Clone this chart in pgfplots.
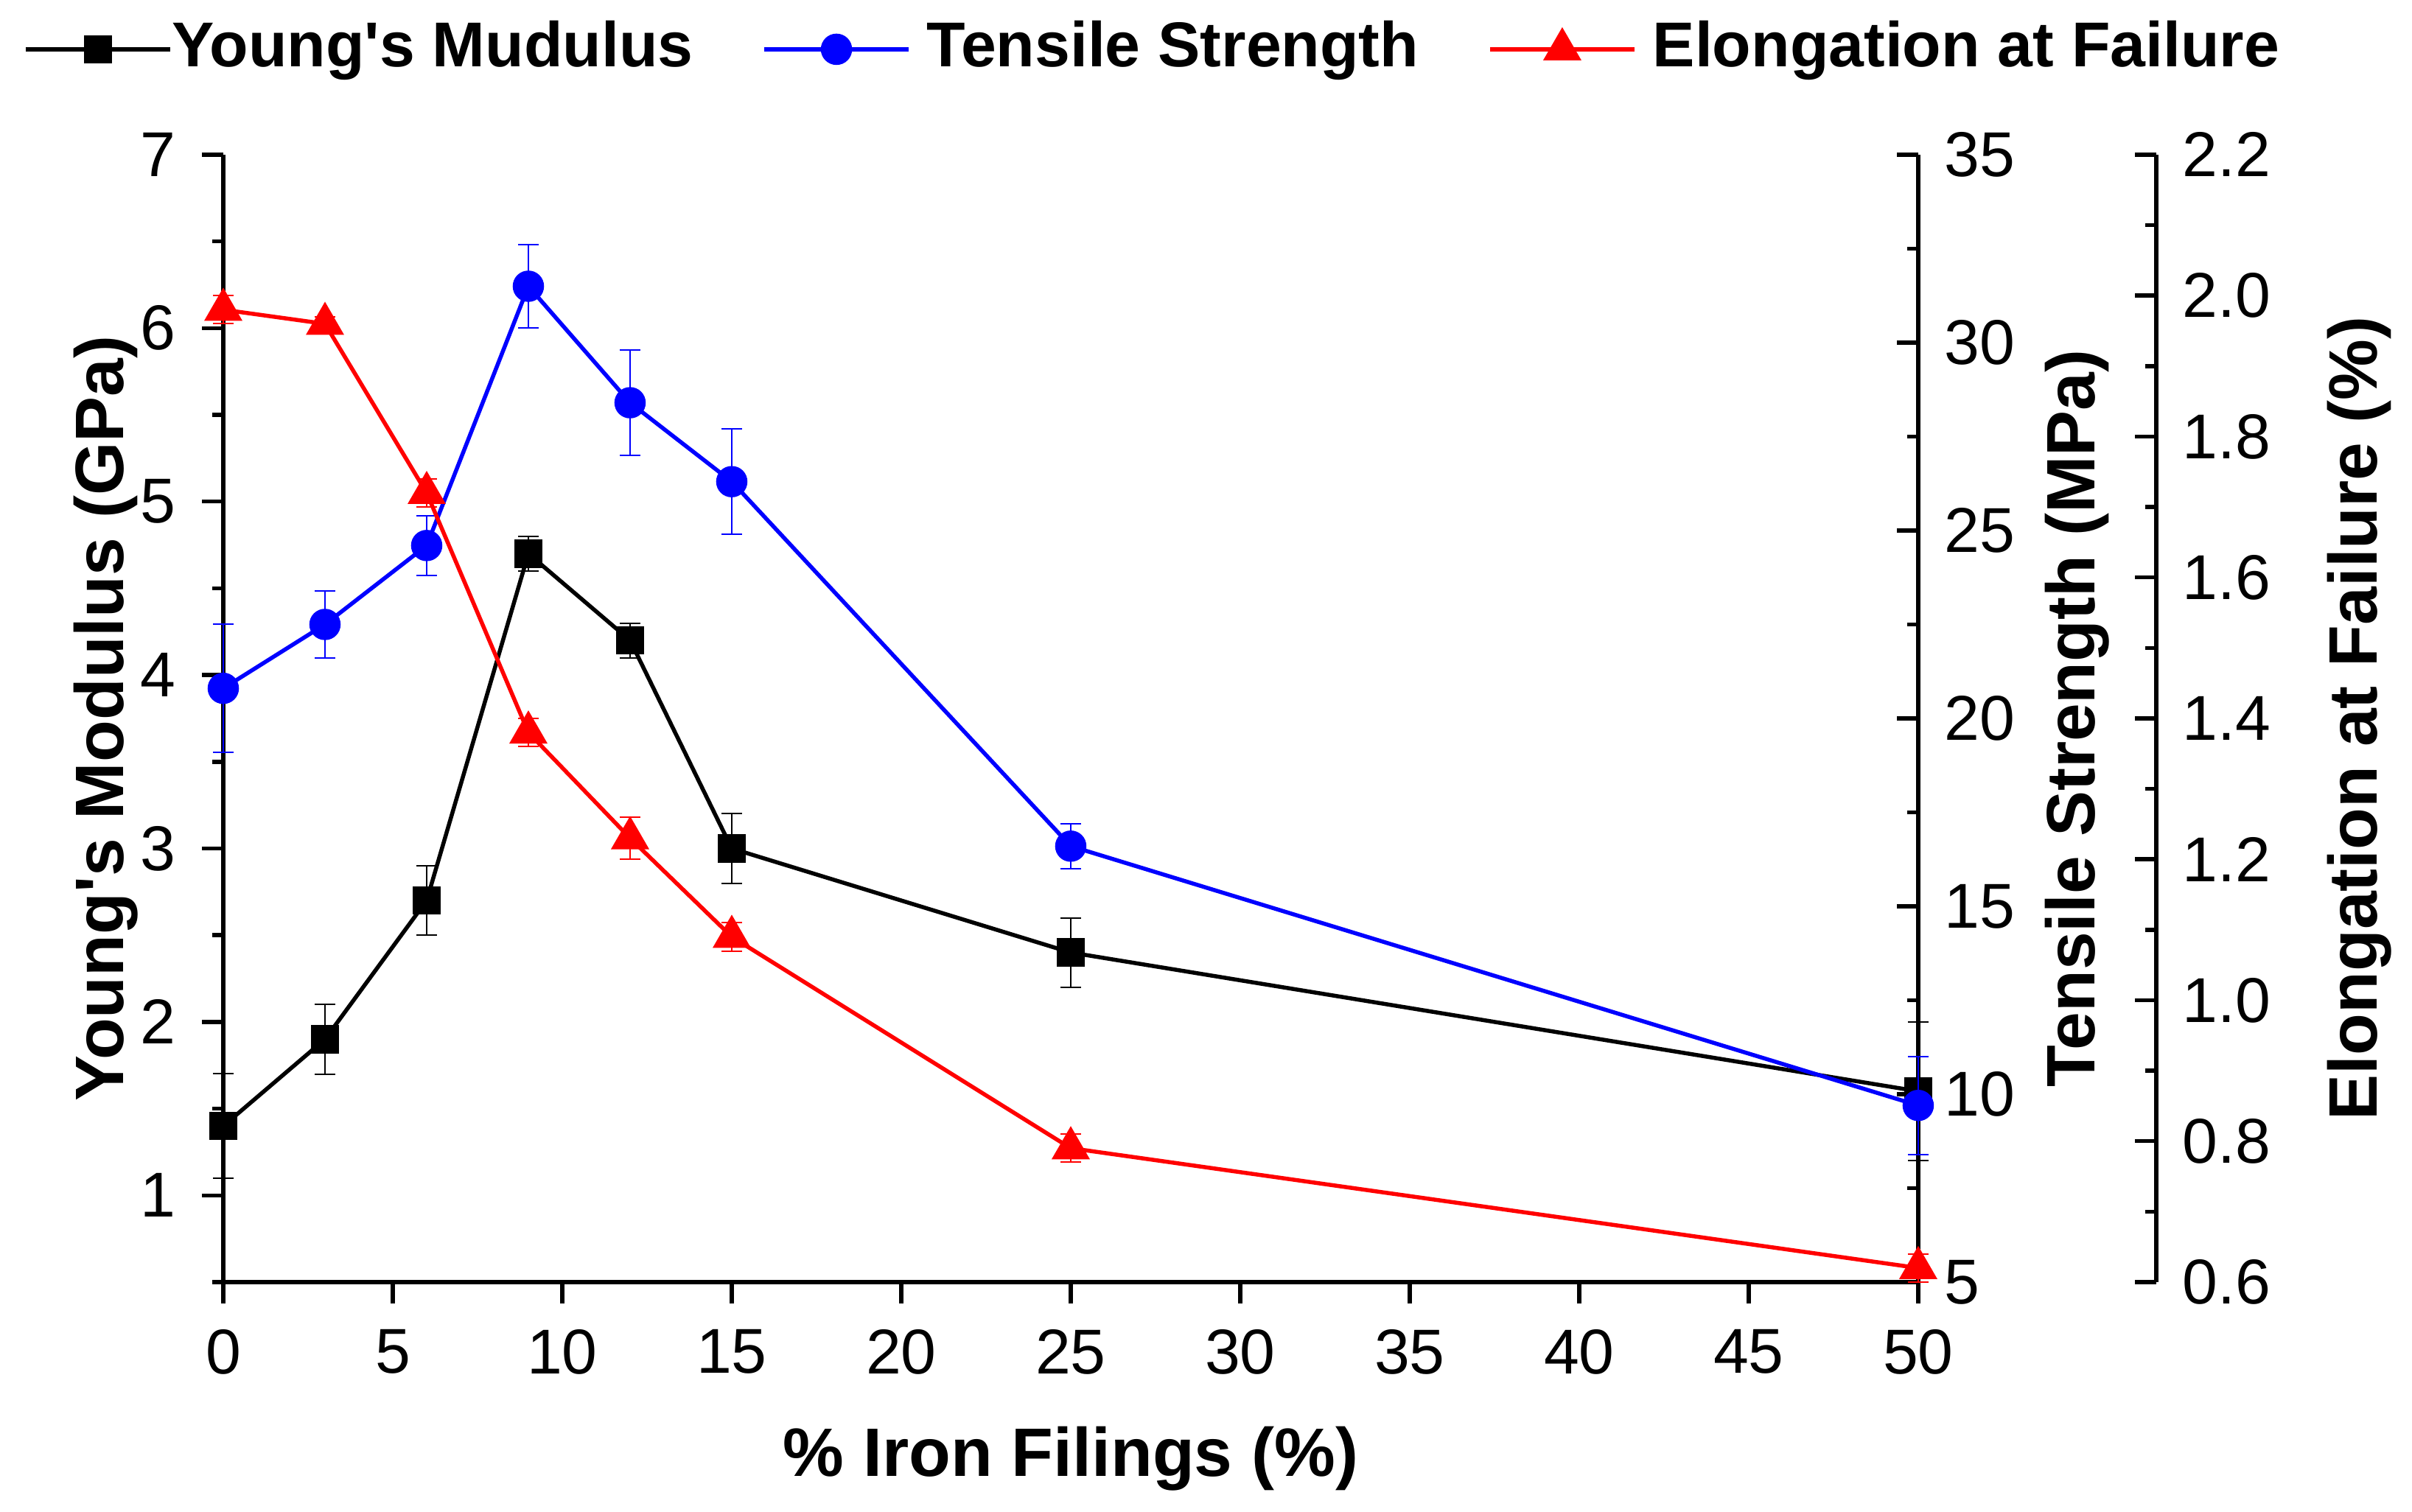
\documentclass[border=0pt]{standalone}
\usepackage{fontspec}
\setmainfont{Liberation Sans}[Ligatures=TeXOff]
\usepackage{pgfplots}
\pgfplotsset{compat=1.18}
\usepackage{pgfplotstable}

\pgfplotstableread{
x y e
0 1.4 0.3
3 1.9 0.2
6 2.7 0.2
9 4.7 0.1
12 4.2 0.1
15 3.0 0.2
25 2.4 0.2
50 1.6 0.4
}\ymod
\pgfplotstableread{
x y e
0 20.8 1.7
3 22.5 0.9
6 24.6 0.8
9 31.5 1.1
12 28.4 1.4
15 26.3 1.4
25 16.6 0.6
50 9.7 1.3
}\tens
\pgfplotstableread{
x y e
0 1.98 0.02
3 1.96 0.01
6 1.72 0.02
9 1.38 0.02
12 1.23 0.03
15 1.09 0.02
25 0.79 0.02
50 0.62 0.02
}\elong

\begin{document}
\begin{tikzpicture}
\useasboundingbox (-30.3pt,-31.2pt) rectangle (297pt,174pt);
\pgfplotsset{
  every axis/.append style={
    width=230pt, height=153pt, scale only axis,
    xmin=0, xmax=50, enlargelimits=false, clip=false,
    /pgf/number format/assume math mode=true,
    tick label style={font=\fontsize{8.6}{10}\selectfont},
    label style={font=\fontsize{9.3}{11}\selectfont\bfseries},
    axis line style={line width=0.6pt, -},
    major tick length=2.9pt, minor tick length=1.45pt,
    tick style={line width=0.55pt, black},
  },
  myerr/.style={error bars/.cd, y dir=both, y explicit,
    error bar style={line width=0.2pt},
    error mark options={rotate=90, mark size=1.4pt, line width=0.2pt}},
  dline/.style={line width=0.55pt},
}
% Young's modulus (left axis)
\begin{axis}[
  at={(0,0)},
  axis x line*=bottom, axis y line*=left,
  ymin=0.5, ymax=7,
  xtick={0,5,...,50}, ytick={1,...,7}, minor ytick={0.5,1.5,...,6.5},
  tick align=outside,
  xlabel={\% Iron Filings (\%)},
  ylabel={Young's Modulus (GPa)},
  xlabel style={at={(axis description cs:0.5,-0.1725)}, anchor=base},
  ylabel style={at={(axis description cs:-0.0587,0.5)}, anchor=base},
  legend columns=-1,
  legend style={draw=none, fill=none, inner sep=0pt, outer sep=0pt,
    at={(axis description cs:-0.1178,1.0935)}, anchor=west,
    font=\fontsize{8.6}{10}\selectfont\bfseries,
    nodes={inner sep=0pt},
    /tikz/every even column/.append style={column sep=9.4pt}},
  legend image code/.code={
    \draw[mark repeat=2,mark phase=2,#1] plot coordinates {(0pt,0pt) (9.8pt,0pt) (19.6pt,0pt)};
  },
]
\addplot[black, dline, mark=square*, mark size=1.65pt, mark options={solid}, myerr]
  table[x=x, y=y, y error=e]{\ymod};
\addlegendentry{Young's Mudulus}
\addlegendimage{blue, dline, mark=*, mark size=1.85pt, mark options={solid}}
\addlegendentry{\hspace{2.2pt}Tensile Strength}
\addlegendimage{red, dline, mark=triangle*, mark size=2.45pt, mark options={solid}}
\addlegendentry{\hspace{2.2pt}Elongation at Failure}
\end{axis}
% Tensile strength (right axis)
\begin{axis}[
  at={(0,0)},
  axis x line=none, axis y line*=right,
  ymin=5, ymax=35,
  ytick={5,10,...,35}, minor ytick={7.5,12.5,...,32.5},
  tick align=inside,
  ylabel={Tensile Strength (MPa)},
  ylabel style={at={(axis description cs:1.1043,0.5)}, anchor=base},
]
\addplot[blue, dline, mark=*, mark size=1.85pt, mark options={solid}, myerr]
  table[x=x, y=y, y error=e]{\tens};
\end{axis}
% Elongation data
\begin{axis}[
  at={(0,0)}, hide axis,
  ymin=0.6, ymax=2.2,
]
\addplot[red, dline, mark=triangle*, mark size=2.45pt, mark options={solid}, myerr]
  table[x=x, y=y, y error=e]{\elong};
\end{axis}
% Elongation axis (offset)
\begin{axis}[
  at={(32.3pt,0)},
  axis x line=none, axis y line*=right,
  ymin=0.6, ymax=2.2,
  ytick={0.6,0.8,...,2.21}, minor ytick={0.7,0.9,...,2.11},
  yticklabel style={/pgf/number format/.cd, fixed, fixed zerofill, precision=1},
  tick align=inside,
  ylabel={Elongation at Failure (\%)},
  ylabel style={at={(axis description cs:1.130,0.5)}, anchor=base},
]
\end{axis}
\end{tikzpicture}
\end{document}
